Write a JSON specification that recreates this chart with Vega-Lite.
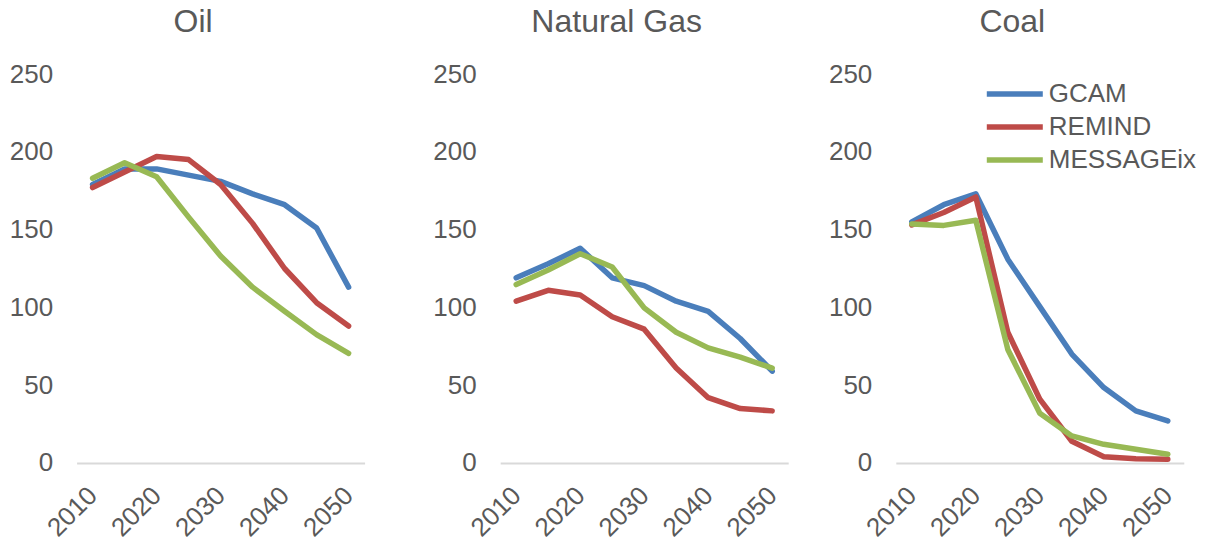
{
 "$schema": "https://vega.github.io/schema/vega-lite/v6.json",
 "padding": {"left": 8.6, "top": 6, "right": 0, "bottom": 0},
 "background": "white",
 "config": {
  "view": {"stroke": null},
  "font": "Liberation Sans",
  "axis": {"labelColor": "#595959", "labelFontSize": 26, "ticks": false, "grid": false, "domainColor": "#D9D9D9", "domainWidth": 2, "title": null},
  "title": {"fontSize": 32, "color": "#595959", "fontWeight": "normal", "font": "Liberation Sans", "baseline": "alphabetic", "anchor": "middle", "frame": "group", "dx": -27.5, "offset": 22}
 },
 "datasets": {"d": [
  {"fuel":"Oil","model":"GCAM","year":2010,"value":179},
  {"fuel":"Oil","model":"GCAM","year":2015,"value":189},
  {"fuel":"Oil","model":"GCAM","year":2020,"value":189},
  {"fuel":"Oil","model":"GCAM","year":2025,"value":185},
  {"fuel":"Oil","model":"GCAM","year":2030,"value":181},
  {"fuel":"Oil","model":"GCAM","year":2035,"value":173},
  {"fuel":"Oil","model":"GCAM","year":2040,"value":166},
  {"fuel":"Oil","model":"GCAM","year":2045,"value":151},
  {"fuel":"Oil","model":"GCAM","year":2050,"value":113},
  {"fuel":"Oil","model":"REMIND","year":2010,"value":177},
  {"fuel":"Oil","model":"REMIND","year":2015,"value":187},
  {"fuel":"Oil","model":"REMIND","year":2020,"value":197},
  {"fuel":"Oil","model":"REMIND","year":2025,"value":195},
  {"fuel":"Oil","model":"REMIND","year":2030,"value":179},
  {"fuel":"Oil","model":"REMIND","year":2035,"value":154},
  {"fuel":"Oil","model":"REMIND","year":2040,"value":125},
  {"fuel":"Oil","model":"REMIND","year":2045,"value":103},
  {"fuel":"Oil","model":"REMIND","year":2050,"value":88},
  {"fuel":"Oil","model":"MESSAGEix","year":2010,"value":183},
  {"fuel":"Oil","model":"MESSAGEix","year":2015,"value":193},
  {"fuel":"Oil","model":"MESSAGEix","year":2020,"value":184},
  {"fuel":"Oil","model":"MESSAGEix","year":2025,"value":158},
  {"fuel":"Oil","model":"MESSAGEix","year":2030,"value":133},
  {"fuel":"Oil","model":"MESSAGEix","year":2035,"value":113},
  {"fuel":"Oil","model":"MESSAGEix","year":2040,"value":97.5},
  {"fuel":"Oil","model":"MESSAGEix","year":2045,"value":82.5},
  {"fuel":"Oil","model":"MESSAGEix","year":2050,"value":70.5},
  {"fuel":"Natural Gas","model":"GCAM","year":2010,"value":119},
  {"fuel":"Natural Gas","model":"GCAM","year":2015,"value":128},
  {"fuel":"Natural Gas","model":"GCAM","year":2020,"value":138},
  {"fuel":"Natural Gas","model":"GCAM","year":2025,"value":119},
  {"fuel":"Natural Gas","model":"GCAM","year":2030,"value":114},
  {"fuel":"Natural Gas","model":"GCAM","year":2035,"value":104},
  {"fuel":"Natural Gas","model":"GCAM","year":2040,"value":97.5},
  {"fuel":"Natural Gas","model":"GCAM","year":2045,"value":80},
  {"fuel":"Natural Gas","model":"GCAM","year":2050,"value":59},
  {"fuel":"Natural Gas","model":"REMIND","year":2010,"value":104},
  {"fuel":"Natural Gas","model":"REMIND","year":2015,"value":111},
  {"fuel":"Natural Gas","model":"REMIND","year":2020,"value":108},
  {"fuel":"Natural Gas","model":"REMIND","year":2025,"value":94},
  {"fuel":"Natural Gas","model":"REMIND","year":2030,"value":86},
  {"fuel":"Natural Gas","model":"REMIND","year":2035,"value":61},
  {"fuel":"Natural Gas","model":"REMIND","year":2040,"value":42},
  {"fuel":"Natural Gas","model":"REMIND","year":2045,"value":35},
  {"fuel":"Natural Gas","model":"REMIND","year":2050,"value":33.5},
  {"fuel":"Natural Gas","model":"MESSAGEix","year":2010,"value":114.7},
  {"fuel":"Natural Gas","model":"MESSAGEix","year":2015,"value":124},
  {"fuel":"Natural Gas","model":"MESSAGEix","year":2020,"value":134.5},
  {"fuel":"Natural Gas","model":"MESSAGEix","year":2025,"value":126},
  {"fuel":"Natural Gas","model":"MESSAGEix","year":2030,"value":99.7},
  {"fuel":"Natural Gas","model":"MESSAGEix","year":2035,"value":84},
  {"fuel":"Natural Gas","model":"MESSAGEix","year":2040,"value":74},
  {"fuel":"Natural Gas","model":"MESSAGEix","year":2045,"value":68},
  {"fuel":"Natural Gas","model":"MESSAGEix","year":2050,"value":61},
  {"fuel":"Coal","model":"GCAM","year":2010,"value":155},
  {"fuel":"Coal","model":"GCAM","year":2015,"value":166},
  {"fuel":"Coal","model":"GCAM","year":2020,"value":173},
  {"fuel":"Coal","model":"GCAM","year":2025,"value":131},
  {"fuel":"Coal","model":"GCAM","year":2030,"value":100.5},
  {"fuel":"Coal","model":"GCAM","year":2035,"value":70},
  {"fuel":"Coal","model":"GCAM","year":2040,"value":48.5},
  {"fuel":"Coal","model":"GCAM","year":2045,"value":33.5},
  {"fuel":"Coal","model":"GCAM","year":2050,"value":27},
  {"fuel":"Coal","model":"REMIND","year":2010,"value":153},
  {"fuel":"Coal","model":"REMIND","year":2015,"value":161},
  {"fuel":"Coal","model":"REMIND","year":2020,"value":171},
  {"fuel":"Coal","model":"REMIND","year":2025,"value":84},
  {"fuel":"Coal","model":"REMIND","year":2030,"value":41},
  {"fuel":"Coal","model":"REMIND","year":2035,"value":14},
  {"fuel":"Coal","model":"REMIND","year":2040,"value":4},
  {"fuel":"Coal","model":"REMIND","year":2045,"value":2.8},
  {"fuel":"Coal","model":"REMIND","year":2050,"value":2.4},
  {"fuel":"Coal","model":"MESSAGEix","year":2010,"value":153.6},
  {"fuel":"Coal","model":"MESSAGEix","year":2015,"value":152.7},
  {"fuel":"Coal","model":"MESSAGEix","year":2020,"value":156},
  {"fuel":"Coal","model":"MESSAGEix","year":2025,"value":73},
  {"fuel":"Coal","model":"MESSAGEix","year":2030,"value":32},
  {"fuel":"Coal","model":"MESSAGEix","year":2035,"value":17.4},
  {"fuel":"Coal","model":"MESSAGEix","year":2040,"value":12},
  {"fuel":"Coal","model":"MESSAGEix","year":2045,"value":8.8},
  {"fuel":"Coal","model":"MESSAGEix","year":2050,"value":5.6}
 ]},
 "spacing": 67.6,
 "resolve": {"legend": {"color": "independent"}},
 "hconcat": [
  {
   "data": {"name": "d"},
   "transform": [{"filter": "datum.fuel === 'Oil'"}],
   "width": 288, "height": 389,
   "title": {"text": "Oil"},
   "mark": {"type": "line", "strokeWidth": 5.5, "strokeCap": "round", "strokeJoin": "round"},
   "encoding": {
    "x": {"field": "year", "type": "quantitative", "scale": {"domain": [2007.5, 2052.5], "nice": false, "zero": false}, "axis": {"values": [2010, 2020, 2030, 2040, 2050], "format": "d", "labelAngle": -45, "labelAlign": "right", "labelBaseline": "middle", "labelPadding": 28, "labelFlush": false}},
    "y": {"field": "value", "type": "quantitative", "scale": {"domain": [0, 250], "nice": false}, "axis": {"values": [0, 50, 100, 150, 200, 250], "domain": false, "labelPadding": 24}},
    "color": {"field": "model", "type": "nominal", "sort": null, "scale": {"domain": ["GCAM", "REMIND", "MESSAGEix"], "range": ["#4A7EBB", "#BE4B48", "#98B954"]}, "legend": null}
   }
  },
  {
   "spacing": 39.6,
   "resolve": {"legend": {"color": "independent"}},
   "hconcat": [
    {
     "data": {"name": "d"},
     "transform": [{"filter": "datum.fuel === 'Natural Gas'"}],
     "width": 288, "height": 389,
     "title": {"text": "Natural Gas"},
     "mark": {"type": "line", "strokeWidth": 5.5, "strokeCap": "round", "strokeJoin": "round"},
     "encoding": {
      "x": {"field": "year", "type": "quantitative", "scale": {"domain": [2007.5, 2052.5], "nice": false, "zero": false}, "axis": {"values": [2010, 2020, 2030, 2040, 2050], "format": "d", "labelAngle": -45, "labelAlign": "right", "labelBaseline": "middle", "labelPadding": 28, "labelFlush": false}},
      "y": {"field": "value", "type": "quantitative", "scale": {"domain": [0, 250], "nice": false}, "axis": {"values": [0, 50, 100, 150, 200, 250], "domain": false, "labelPadding": 24}},
      "color": {"field": "model", "type": "nominal", "sort": null, "scale": {"domain": ["GCAM", "REMIND", "MESSAGEix"], "range": ["#4A7EBB", "#BE4B48", "#98B954"]}, "legend": null}
     }
    },
    {
     "data": {"name": "d"},
     "transform": [{"filter": "datum.fuel === 'Coal'"}],
     "width": 288, "height": 389,
     "title": {"text": "Coal"},
     "mark": {"type": "line", "strokeWidth": 5.5, "strokeCap": "round", "strokeJoin": "round"},
     "encoding": {
      "x": {"field": "year", "type": "quantitative", "scale": {"domain": [2007.5, 2052.5], "nice": false, "zero": false}, "axis": {"values": [2010, 2020, 2030, 2040, 2050], "format": "d", "labelAngle": -45, "labelAlign": "right", "labelBaseline": "middle", "labelPadding": 28, "labelFlush": false}},
      "y": {"field": "value", "type": "quantitative", "scale": {"domain": [0, 250], "nice": false}, "axis": {"values": [0, 50, 100, 150, 200, 250], "domain": false, "labelPadding": 24}},
      "color": {"field": "model", "type": "nominal", "sort": null, "scale": {"domain": ["GCAM", "REMIND", "MESSAGEix"], "range": ["#4A7EBB", "#BE4B48", "#98B954"]},
       "legend": {"orient": "none", "legendX": 88, "legendY": 7, "title": null, "symbolType": "stroke", "symbolSize": 3136, "symbolStrokeWidth": 5.5, "labelFontSize": 26, "labelColor": "#595959", "labelOffset": 3, "clipHeight": 26, "rowPadding": 7, "padding": 0}}
     }
    }
   ]
  }
 ]
}
